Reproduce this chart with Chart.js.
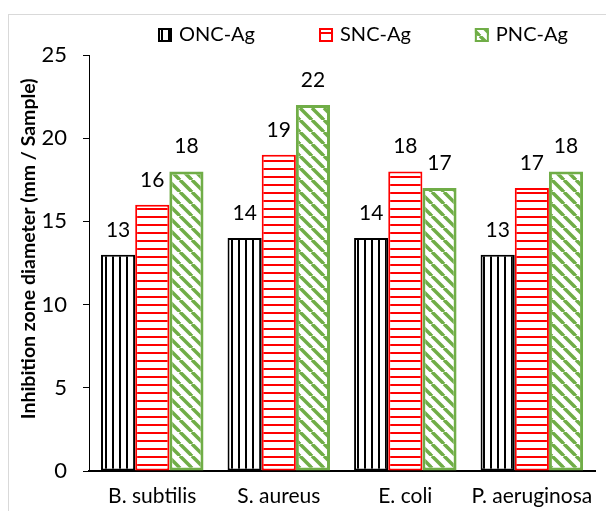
<!DOCTYPE html>
<html>
<head>
<meta charset="utf-8">
<script src="https://cdn.jsdelivr.net/npm/chart.js@4.4.1/dist/chart.umd.min.js"></script>
<style>
  html, body { margin: 0; padding: 0; background: #fff; }
  #wrap { position: relative; width: 606px; height: 511px; overflow: hidden; }
  #frame { position: absolute; left: 8px; top: 14px; width: 700px; height: 600px; border: 1px solid #d9d9d9; }
  #myBar { position: absolute; left: 0; top: 0; }
</style>
</head>
<body>
<div id="wrap">
  <div id="frame"></div>
  <canvas id="myBar" width="606" height="511"></canvas>
</div>
<script>
const categories = ['B. subtilis', 'S. aureus', 'E. coli', 'P. aeruginosa'];
const series_names = ['ONC-Ag', 'SNC-Ag', 'PNC-Ag'];
const onc_values = [13, 14, 14, 13];
const snc_values = [16, 19, 18, 17];
const pnc_values = [18, 22, 17, 18];
const y_ticks = [0, 5, 10, 15, 20, 25];

const FONT = 'Lato';

// small tiles used as fill patterns
function makeTile(w, h, draw) {
  const c = document.createElement('canvas');
  c.width = w; c.height = h;
  const g = c.getContext('2d');
  g.fillStyle = '#fff';
  g.fillRect(0, 0, w, h);
  draw(g);
  return document.getElementById('myBar').getContext('2d').createPattern(c, 'repeat');
}

const vert_pattern = makeTile(7, 7, g => {
  g.fillStyle = '#000';
  g.fillRect(0, 0, 2, 7);
});
const horiz_pattern = makeTile(8, 8, g => {
  g.fillStyle = '#ff0000';
  g.fillRect(0, 0, 8, 2);
});
const diag_pattern = makeTile(12, 12, g => {
  g.strokeStyle = '#70ad47';
  g.lineWidth = 3.5;
  for (let k = -1; k <= 1; k++) {
    g.beginPath();
    g.moveTo(k * 12, 0);
    g.lineTo(k * 12 + 12, 12);
    g.stroke();
  }
});

const fills = [vert_pattern, horiz_pattern, diag_pattern];
const borders = ['#000000', '#ff0000', '#70ad47'];
const border_widths = [2, 2, 3];

const valueLabels = {
  id: 'valueLabels',
  afterDatasetsDraw(chart) {
    const ctx = chart.ctx;
    ctx.save();
    ctx.font = '21px ' + FONT;
    ctx.fillStyle = '#000';
    ctx.textAlign = 'center';
    ctx.textBaseline = 'alphabetic';
    chart.data.datasets.forEach((ds, i) => {
      chart.getDatasetMeta(i).data.forEach((bar, j) => {
        ctx.fillText(ds.data[j], bar.x, bar.y - 18);
      });
    });
    ctx.restore();
  }
};

const topLegend = {
  id: 'topLegend',
  afterDraw(chart) {
    const ctx = chart.ctx;
    ctx.save();
    ctx.font = '20px ' + FONT;
    ctx.textBaseline = 'middle';
    ctx.textAlign = 'left';
    let x = 158;
    const y = 35;
    chart.data.datasets.forEach((ds, i) => {
      ctx.fillStyle = fills[i];
      ctx.fillRect(x, y - 7, 14, 14);
      ctx.strokeStyle = borders[i];
      ctx.lineWidth = 2;
      ctx.strokeRect(x + 1, y - 6, 12, 12);
      ctx.fillStyle = '#000';
      ctx.fillText(ds.label, x + 21, y);
      x += 21 + ctx.measureText(ds.label).width + 64;
    });
    ctx.restore();
  }
};

const my_bar = document.getElementById('myBar');

new Chart(my_bar, {
  type: 'bar',
  data: {
    labels: categories,
    datasets: [onc_values, snc_values, pnc_values].map((vals, i) => ({
      label: series_names[i],
      data: vals,
      backgroundColor: fills[i],
      borderColor: borders[i],
      borderWidth: border_widths[i],
      borderSkipped: false,
      categoryPercentage: 0.81,
      barPercentage: 1.0
    }))
  },
  plugins: [valueLabels, topLegend],
  options: {
    responsive: false,
    animation: false,
    devicePixelRatio: 1,
    layout: { padding: { top: 55, right: 6, left: 0, bottom: 0 } },
    plugins: {
      legend: { display: false },
      tooltip: { enabled: false }
    },
    scales: {
      x: {
        afterFit: s => { s.height = 40; },
        border: { display: true, color: '#000', width: 2 },
        grid: { display: false, drawTicks: false },
        ticks: { color: '#000', font: { family: FONT, size: 21 }, padding: 13 }
      },
      y: {
        min: 0,
        max: 25,
        afterBuildTicks: s => { s.ticks = y_ticks.map(v => ({ value: v })); },
        afterFit: s => { s.width = 89; },
        border: { display: true, color: '#000', width: 1 },
        grid: { drawOnChartArea: false, drawTicks: true, tickLength: 6, color: '#000' },
        ticks: { color: '#000', font: { family: FONT, size: 22 }, padding: 16 },
        title: {
          display: true,
          // leading spaces nudge the title up a little, as in the original
          text: '      Inhibition zone diameter (mm / Sample)',
          color: '#000',
          font: { family: FONT, size: 19.5, weight: 'bold' },
          padding: { top: 17, bottom: 0 }
        }
      }
    }
  }
});
</script>
</body>
</html>
